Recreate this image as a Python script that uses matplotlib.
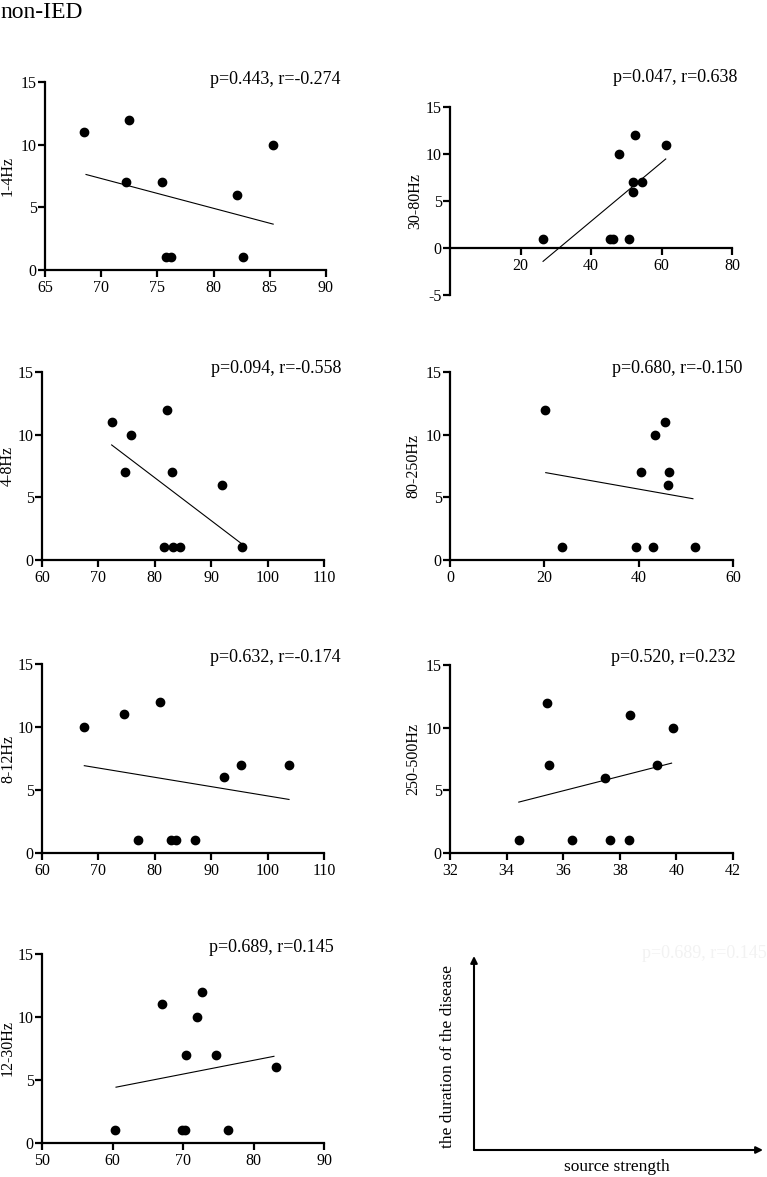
import matplotlib.pyplot as plt
import numpy as np

plt.rcParams['font.family'] = ['Liberation Serif', 'DejaVu Serif']
plt.rcParams['axes.unicode_minus'] = False

# source strength (x) vs the duration of the disease (y)
band_names = ['1-4Hz', '30-80Hz', '4-8Hz', '80-250Hz', '8-12Hz', '250-500Hz', '12-30Hz']
p_values = ['0.443', '0.047', '0.094', '0.680', '0.632', '0.520', '0.689']
r_values = ['-0.274', '0.638', '-0.558', '-0.150', '-0.174', '0.232', '0.145']

x_1_4 = [68.5, 72.5, 72.2, 75.4, 75.8, 76.2, 82.1, 82.6, 85.3]
y_1_4 = [11, 12, 7, 7, 1, 1, 6, 1, 10]
fit_x_1_4 = [68.65, 85.3]
fit_y_1_4 = [7.62, 3.66]

x_30_80 = [26.3, 45.3, 46.3, 50.7, 48.0, 52.4, 61.2, 51.9, 54.6, 51.9]
y_30_80 = [1, 1, 1, 1, 10, 12, 11, 7, 7, 6]
fit_x_30_80 = [26.4, 61.2]
fit_y_30_80 = [-1.42, 9.47]

x_4_8 = [72.35, 75.8, 74.8, 82.1, 83.1, 92.0, 81.6, 83.3, 84.4, 95.5]
y_4_8 = [11, 10, 7, 12, 7, 6, 1, 1, 1, 1]
fit_x_4_8 = [72.35, 95.3]
fit_y_4_8 = [9.18, 1.33]

x_80_250 = [20.2, 23.8, 39.4, 43.1, 51.9, 40.4, 43.5, 45.6, 46.5, 46.3]
y_80_250 = [12, 1, 1, 1, 1, 7, 10, 11, 7, 6]
fit_x_80_250 = [20.3, 51.5]
fit_y_80_250 = [6.97, 4.89]

x_8_12 = [67.5, 74.5, 80.9, 77.0, 82.9, 83.7, 87.2, 92.2, 95.2, 103.8]
y_8_12 = [10, 11, 12, 1, 1, 1, 1, 6, 7, 7]
fit_x_8_12 = [67.5, 103.8]
fit_y_8_12 = [6.93, 4.25]

x_250_500 = [34.43, 36.32, 37.65, 38.32, 35.42, 35.5, 37.48, 38.37, 39.3, 39.89]
y_250_500 = [1, 1, 1, 1, 12, 7, 6, 11, 7, 10]
fit_x_250_500 = [34.43, 39.83]
fit_y_250_500 = [4.06, 7.17]

x_12_30 = [60.4, 69.86, 70.33, 76.43, 67.02, 72.7, 72.03, 70.38, 74.73, 83.14]
y_12_30 = [1, 1, 1, 1, 11, 12, 10, 7, 7, 6]
fit_x_12_30 = [60.5, 82.9]
fit_y_12_30 = [4.43, 6.88]

xs = [x_1_4, x_30_80, x_4_8, x_80_250, x_8_12, x_250_500, x_12_30]
ys = [y_1_4, y_30_80, y_4_8, y_80_250, y_8_12, y_250_500, y_12_30]
fit_xs = [fit_x_1_4, fit_x_30_80, fit_x_4_8, fit_x_80_250, fit_x_8_12, fit_x_250_500, fit_x_12_30]
fit_ys = [fit_y_1_4, fit_y_30_80, fit_y_4_8, fit_y_80_250, fit_y_8_12, fit_y_250_500, fit_y_12_30]

x_limits = [(65, 90), (0, 80), (60, 110), (0, 60), (60, 110), (32, 42), (50, 90)]
x_steps = [5, 20, 10, 20, 10, 2, 10]

W, H = 767, 1177
# axes boxes in pixels: left, right, top, bottom
boxes = [(45, 326, 82, 270), (450, 732, 107, 295),
         (42, 324, 372, 560), (450, 733, 372, 560),
         (42, 324, 664, 853), (450, 733, 665, 853),
         (42, 324, 954, 1143)]
# right edge / centre of the p, r text in pixels
text_pos = [(341, 80), (737, 78), (341, 368), (742, 368), (341, 657), (736, 657), (334, 947)]
# x centre of the y label in pixels
ylabel_x = [8, 415, 8, 413, 8, 413, 8]

fig = plt.figure(figsize=(W / 100, H / 100), dpi=100)
fig.text(0.0, 1 - 12 / H, 'non-IED', fontsize=17, va='center', ha='left')

for i in range(7):
    l, r, t, b = boxes[i]
    ax = fig.add_axes([l / W, 1 - b / H, (r - l) / W, (b - t) / H])
    ax.scatter(xs[i], ys[i], s=36, color='k', zorder=3, clip_on=False)
    ax.plot(fit_xs[i], fit_ys[i], color='k', lw=0.8)
    ax.set_xlim(*x_limits[i])
    ticks = np.arange(x_limits[i][0], x_limits[i][1] + 0.1, x_steps[i])
    if i == 1:
        ax.set_ylim(-5, 15)
        ax.set_yticks([-5, 0, 5, 10, 15])
        ax.spines['bottom'].set_position(('data', 0))
        ticks = ticks[1:]
    else:
        ax.set_ylim(0, 15)
        ax.set_yticks([0, 5, 10, 15])
    ax.set_xticks(ticks)
    ax.set_xticklabels([str(int(v)) for v in ticks])
    for s in ['top', 'right']:
        ax.spines[s].set_visible(False)
    for s in ['left', 'bottom']:
        ax.spines[s].set_linewidth(1.6)
    ax.tick_params(width=1.6, length=5, labelsize=11.5, pad=2, colors='k')
    ax.tick_params(axis='y', pad=1)
    ax.patch.set_alpha(0)
    fig.text(ylabel_x[i] / W, 1 - (t + b) / 2 / H, band_names[i], fontsize=11.5,
             rotation=90, ha='center', va='center')
    tx, ty = text_pos[i]
    fig.text(tx / W, 1 - ty / H, 'p=%s, r=%s' % (p_values[i], r_values[i]),
             fontsize=13, ha='right', va='center')

# schematic panel
ax = fig.add_axes([474 / W, 1 - 1150 / H, (763 - 474) / W, (1150 - 956) / H])
ax.set_xlim(0, 1)
ax.set_ylim(0, 1)
ax.axis('off')
ax.annotate('', xy=(0, 1), xytext=(0, 0),
            arrowprops=dict(arrowstyle='-|>', lw=1.5, color='k', mutation_scale=10,
                            shrinkA=0, shrinkB=0))
ax.annotate('', xy=(1, 0), xytext=(0, 0),
            arrowprops=dict(arrowstyle='-|>', lw=1.5, color='k', mutation_scale=10,
                            shrinkA=0, shrinkB=0))
fig.text(617 / W, 1 - 1167 / H, 'source strength', fontsize=12.5, ha='center', va='center')
fig.text(448 / W, 1 - 1057 / H, 'the duration of the disease', fontsize=12.5,
         ha='center', va='center', rotation=90)
fig.text(767 / W, 1 - 953 / H, 'p=0.689, r=0.145', fontsize=13, ha='right', va='center',
         color='#f2f2f2')

fig.savefig('out.png', dpi=100)
